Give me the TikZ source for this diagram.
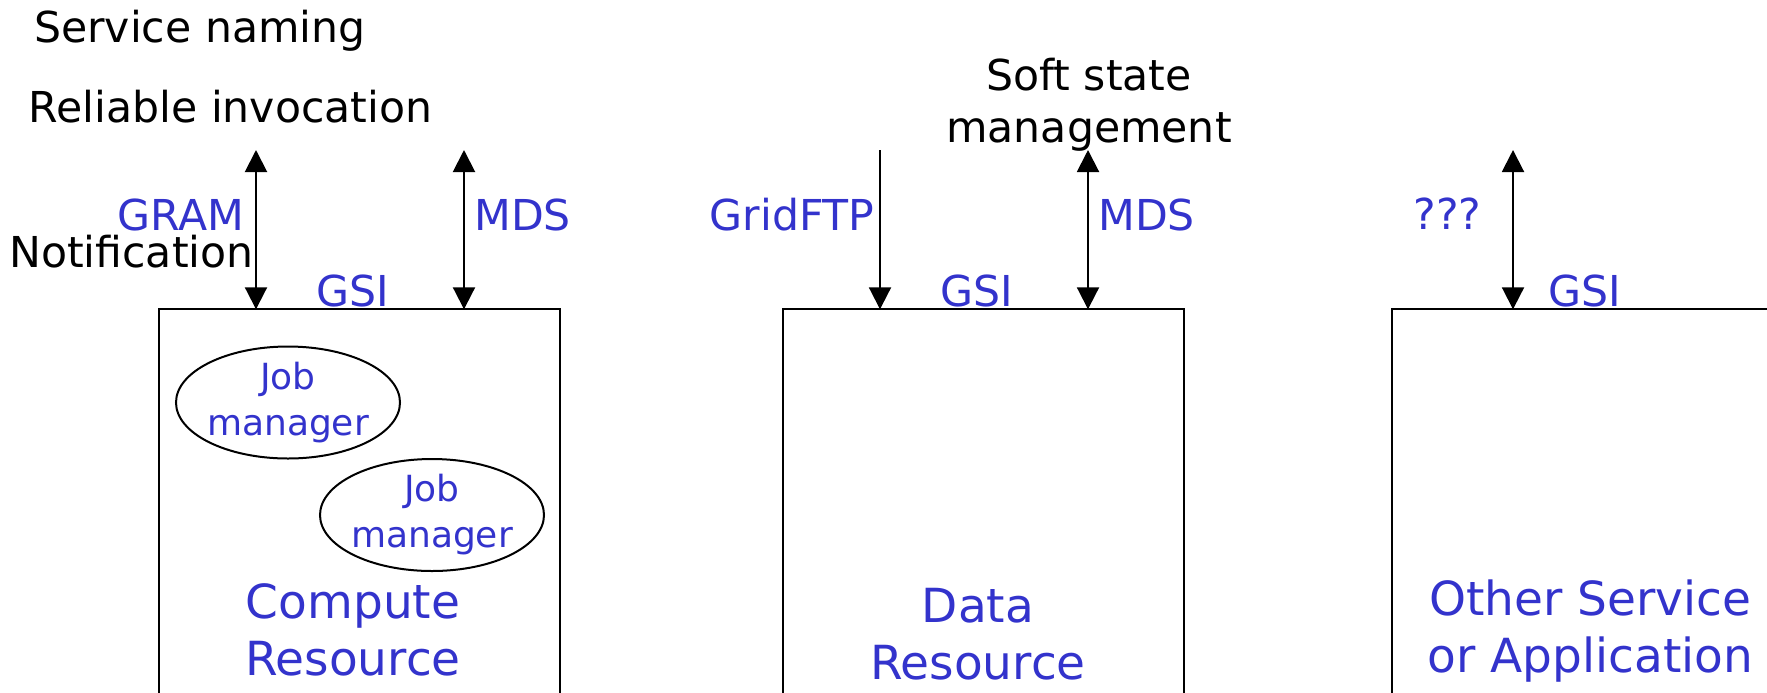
\documentclass[tikz,border=0pt]{standalone}
\usepackage{fontspec}
\setmainfont{DejaVu Sans}
\usetikzlibrary{shapes.geometric, arrows.meta}
\usetikzlibrary{positioning}
\definecolor{gridblue}{RGB}{51,51,204}
\tikzstyle{resbox} = [rectangle,
minimum width=200.35pt,
minimum height=250pt,
inner sep=0pt,
outer sep=0pt,
line width=1pt,
draw=black]
\tikzstyle{jobell} = [ellipse,
minimum width=112pt,
minimum height=56pt,
inner sep=0pt,
outer sep=0pt,
line width=1pt,
draw=black]
\tikzstyle{blk} = [inner sep=0pt, text=black, font=\fontsize{21.3}{26}\selectfont]
\tikzstyle{proto} = [inner sep=0pt, text=gridblue, font=\fontsize{21.3}{26}\selectfont]
\tikzstyle{jobtxt} = [inner sep=0pt, align=center, text=gridblue, font=\fontsize{18}{23}\selectfont]
\tikzstyle{restxt} = [inner sep=0pt, align=center, text=gridblue, font=\fontsize{23.5}{28.5}\selectfont]
\tikzstyle{dblarrow} = [line width=1pt, {Triangle[width=11pt,length=11pt]}-{Triangle[width=11pt,length=11pt]}]
\tikzstyle{inarrow} = [line width=1pt, -{Triangle[width=11pt,length=11pt]}]
\begin{document}
\begin{tikzpicture}[x=0.5pt, y=-0.5pt]
\clip (0,0) rectangle (1767,692);

\node (compute_res) [resbox, anchor=north west] at (159.3,309.3) {};
\node (data_res) [resbox, right=111.5pt of compute_res] {};
\node (other_res) [resbox, right=104pt of data_res] {};

\node (job_mgr_a) [jobell] at (288,402.5) {};
\node (job_txt_a) [jobtxt] at (job_mgr_a) {Job\\manager};
\node (job_mgr_b) [jobell] at (432,515) {};
\node (job_txt_b) [jobtxt] at (job_mgr_b) {Job\\manager};

\node (compute_txt) [restxt] at (353,629.4) {Compute\\Resource};
\node (data_txt) [restxt] at (978,634.6) {Data\\Resource};
\node (other_txt) [restxt] at (1590.5,630.6) {Other Service\\or Application};

\node (svc_naming) [blk, anchor=base west] at (33.7,42.7) {Service naming};
\node (rel_invoc) [blk, anchor=base west] at (28.4,122.7) {Reliable invocation};
\node (notif) [blk, anchor=base east] at (254,267) {Notification};
\node (soft_state) [blk, align=center] at (1089,105.2) {Soft state\\management};

\node (gram_lbl) [proto, anchor=base east] at (245,230) {GRAM};
\node (mds_lbl_a) [proto, anchor=base west] at (474,230) {MDS};
\node (gsi_lbl_a) [proto, anchor=base west] at (316,306) {GSI};
\node (ftp_lbl) [proto, anchor=base east] at (875,230) {GridFTP};
\node (gsi_lbl_b) [proto, anchor=base west] at (940,306) {GSI};
\node (mds_lbl_b) [proto, anchor=base west] at (1098,230) {MDS};
\node (qqq_lbl) [proto, anchor=base west] at (1413,229) {???};
\node (gsi_lbl_c) [proto, anchor=base west] at (1548,306.7) {GSI};

\coordinate (gram_end) at (256,150);
\coordinate (mds_end_a) at (464,150);
\coordinate (ftp_end) at (880,150);
\coordinate (mds_end_b) at (1088,150);
\coordinate (qqq_end) at (1513,150);

\draw [dblarrow] (gram_end) -- (gram_end |- compute_res.north);
\draw [dblarrow] (mds_end_a) -- (mds_end_a |- compute_res.north);
\draw [inarrow] (ftp_end) -- (ftp_end |- data_res.north);
\draw [dblarrow] (mds_end_b) -- (mds_end_b |- data_res.north);
\draw [dblarrow] (qqq_end) -- (qqq_end |- other_res.north);

\end{tikzpicture}
\end{document}
